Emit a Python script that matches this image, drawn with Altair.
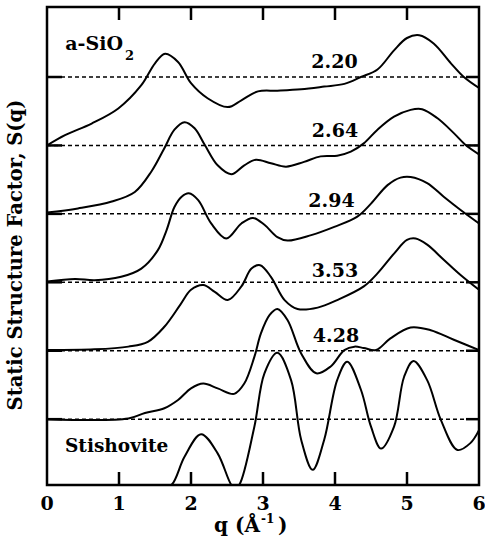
import altair as alt
import pandas as pd

# Static structure factor S(q) of a-SiO2 at several densities (g/cm^3) and of stishovite.
# Each curve is shifted up by one unit from the one below it.

q_220 = [0.0, 0.25, 0.62, 0.99, 1.31, 1.50, 1.64, 1.82, 2.00, 2.23, 2.51, 2.70, 2.93,
         3.20, 3.53, 3.85, 4.13, 4.36, 4.59, 4.82, 5.00, 5.17, 5.37, 5.61, 5.79, 6.00]
s_220 = [0.00, 0.15, 0.32, 0.54, 0.88, 1.20, 1.34, 1.22, 0.91, 0.69, 0.56, 0.66, 0.79,
         0.80, 0.82, 0.86, 0.90, 1.00, 1.11, 1.39, 1.57, 1.61, 1.49, 1.20, 1.00, 0.84]

q_264 = [0.0, 0.43, 0.90, 1.22, 1.45, 1.63, 1.77, 1.91, 2.05, 2.19, 2.37, 2.56, 2.74, 2.90,
         3.11, 3.32, 3.57, 3.80, 4.03, 4.22, 4.40, 4.59, 4.82, 5.05, 5.21, 5.42, 5.65, 5.81, 6.00]
s_264 = [0.02, 0.08, 0.18, 0.32, 0.62, 0.96, 1.23, 1.34, 1.25, 1.01, 0.71, 0.58, 0.71, 0.79,
         0.74, 0.69, 0.76, 0.84, 0.85, 0.91, 1.03, 1.23, 1.42, 1.52, 1.53, 1.40, 1.18, 1.01, 0.87]

q_294 = [0.0, 0.39, 0.66, 1.03, 1.31, 1.54, 1.66, 1.77, 1.87, 1.97, 2.10, 2.28, 2.49, 2.70,
         2.86, 3.02, 3.20, 3.34, 3.67, 3.99, 4.31, 4.50, 4.73, 4.91, 5.05, 5.28, 5.51, 5.74, 6.00]
s_294 = [0.01, 0.05, 0.03, 0.08, 0.20, 0.47, 0.76, 1.10, 1.25, 1.30, 1.20, 0.86, 0.64, 0.86,
         0.94, 0.84, 0.66, 0.61, 0.69, 0.81, 0.96, 1.15, 1.42, 1.53, 1.54, 1.45, 1.25, 1.06, 0.86]

q_353 = [0.0, 0.66, 1.13, 1.40, 1.63, 1.85, 2.00, 2.17, 2.33, 2.51, 2.70, 2.84, 2.96, 3.11,
         3.30, 3.48, 3.76, 4.03, 4.40, 4.59, 4.82, 5.00, 5.12, 5.28, 5.51, 5.74, 6.00]
s_353 = [0.01, 0.02, 0.06, 0.13, 0.35, 0.67, 0.89, 0.96, 0.86, 0.74, 0.94, 1.20, 1.25, 1.08,
         0.74, 0.61, 0.63, 0.74, 0.94, 1.13, 1.42, 1.62, 1.64, 1.55, 1.33, 1.11, 0.89]

q_428 = [0.0, 1.13, 1.36, 1.63, 1.82, 2.00, 2.17, 2.37, 2.60, 2.74, 2.88, 2.97, 3.09, 3.20,
         3.34, 3.53, 3.74, 3.94, 4.13, 4.27, 4.40, 4.57, 4.77, 5.05, 5.33, 5.65, 6.00]
s_428 = [0.00, 0.01, 0.09, 0.16, 0.28, 0.45, 0.52, 0.45, 0.37, 0.52, 0.91, 1.25, 1.52, 1.61,
         1.45, 0.96, 0.67, 0.77, 1.01, 1.06, 1.04, 1.01, 1.18, 1.34, 1.30, 1.16, 1.01]

q_sti = [0.0, 1.60, 1.73, 1.91, 2.14, 2.37, 2.56, 2.61, 2.67, 2.88, 3.02, 3.20, 3.39, 3.53,
         3.69, 3.85, 4.03, 4.17, 4.36, 4.50, 4.64, 4.82, 4.96, 5.09, 5.28, 5.47, 5.70, 5.88, 6.00]
s_sti = [0.00, 0.00, 0.04, 0.45, 0.78, 0.50, 0.04, 0.00, 0.04, 0.89, 1.67, 1.97, 1.57, 0.70,
         0.26, 0.70, 1.57, 1.84, 1.43, 0.89, 0.57, 0.89, 1.62, 1.85, 1.57, 0.99, 0.55, 0.65, 0.84]

density_labels = ["2.20", "2.64", "2.94", "3.53", "4.28"]
x_labels = [0, 1, 2, 3, 4, 5, 6]
x_ticks = [1, 2, 3, 4, 5]
baselines = [1, 2, 3, 4, 5, 6]

W, H = 432, 478
FONT = "DejaVu Serif"

series = [
    ("2.20", 5, q_220, s_220),
    ("2.64", 4, q_264, s_264),
    ("2.94", 3, q_294, s_294),
    ("3.53", 2, q_353, s_353),
    ("4.28", 1, q_428, s_428),
    ("Stishovite", 0, q_sti, s_sti),
]
rows = []
for name, shift, qs, ss in series:
    for i, (qv, sv) in enumerate(zip(qs, ss)):
        rows.append({"series": name, "order": i, "q": qv, "y": sv + shift})
curves_df = pd.DataFrame(rows)

x_scale = alt.Scale(domain=[0, 6], nice=False, zero=False)
y_scale = alt.Scale(domain=[0.038, 7.023], nice=False, zero=False)

curves = alt.Chart(curves_df).mark_line(
    interpolate="catmull-rom", color="black", strokeWidth=2, clip=True
).encode(
    x=alt.X("q:Q", scale=x_scale, axis=None),
    y=alt.Y("y:Q", scale=y_scale, axis=None),
    detail="series:N",
    order="order:Q",
)

base_df = pd.DataFrame({"b": baselines})
dotted = alt.Chart(base_df).mark_rule(
    color="black", strokeWidth=1.5, strokeDash=[4, 3]
).encode(
    y=alt.Y("b:Q", scale=y_scale, axis=None), x=alt.value(0), x2=alt.value(W)
)
left_ticks = alt.Chart(base_df).mark_rule(color="black", strokeWidth=2.5).encode(
    y=alt.Y("b:Q", scale=y_scale, axis=None), x=alt.value(0), x2=alt.value(15)
)
right_ticks = alt.Chart(base_df).mark_rule(color="black", strokeWidth=2.5).encode(
    y=alt.Y("b:Q", scale=y_scale, axis=None), x=alt.value(W - 13), x2=alt.value(W)
)

xt_df = pd.DataFrame({"t": x_ticks})
bottom_ticks = alt.Chart(xt_df).mark_rule(color="black", strokeWidth=2.5).encode(
    x=alt.X("t:Q", scale=x_scale, axis=None), y=alt.value(H), y2=alt.value(H - 13)
)
top_ticks = alt.Chart(xt_df).mark_rule(color="black", strokeWidth=2.5).encode(
    x=alt.X("t:Q", scale=x_scale, axis=None), y=alt.value(0), y2=alt.value(13)
)

# q tick labels along the bottom edge
tick_labels = alt.Chart(pd.DataFrame({"v": x_labels})).mark_text(
    font=FONT, fontWeight="bold", fontSize=19, baseline="alphabetic",
    align="center", color="black"
).encode(
    x=alt.X("v:Q", scale=x_scale, axis=None), y=alt.value(H + 25), text="v:Q"
)


def label(text, px, py, size=19, align="center", angle=None):
    kw = dict(font=FONT, fontWeight="bold", fontSize=size, align=align,
              baseline="alphabetic", color="black")
    if angle is not None:
        kw["angle"] = angle
    return alt.Chart(pd.DataFrame({"t": [text]})).mark_text(**kw).encode(
        x=alt.value(px), y=alt.value(py), text="t:N"
    )


label_y = [61, 130, 200, 270, 335]
label_x = [287.5, 288, 284.5, 288, 289]
texts = [label(t, lx, ly) for t, lx, ly in zip(density_labels, label_x, label_y)]
texts += [
    label("a-SiO", 76, 43, align="right"),
    label("2", 78, 53, size=13, align="left"),
    label("Stishovite", 18, 445, size=18.5, align="left"),
    # vertical axis title
    label("Static Structure Factor, S(q)", -25, 248, size=19.5, angle=270),
    # horizontal axis title
    label("q (Å", 213, 525, size=20, align="right"),
    label("-1", 214, 516, size=12, align="left"),
    label(")", 231, 525, size=20, align="left"),
]

chart = alt.layer(
    curves, dotted, left_ticks, right_ticks, bottom_ticks, top_ticks, tick_labels, *texts
).properties(
    width=W, height=H,
    autosize=alt.AutoSizeParams(type="none"),
    padding={"left": 47, "top": 7, "right": 6, "bottom": 59},
    background="white",
).configure_view(stroke="black", strokeWidth=2.5)

chart.save("out.html", embed_options={"renderer": "svg", "actions": False})
